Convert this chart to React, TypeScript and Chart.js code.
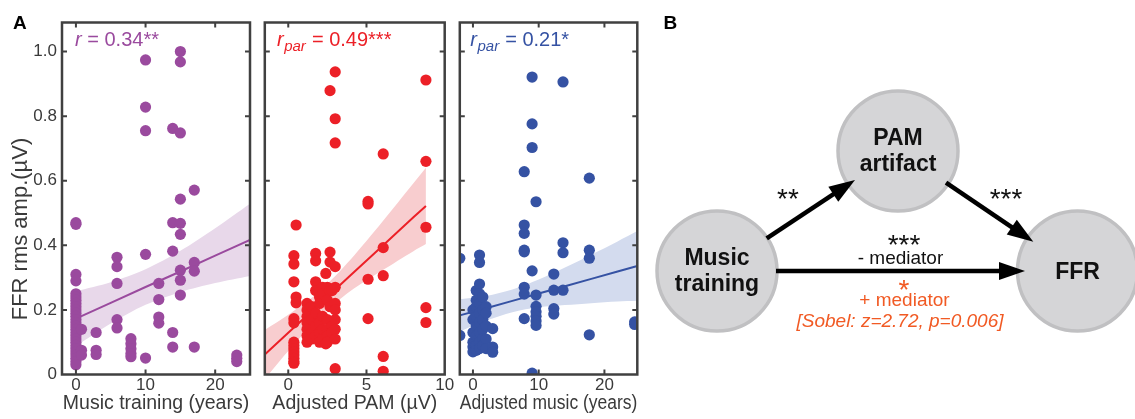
import React, { useEffect, useRef } from 'react';
import { Chart, registerables } from 'chart.js';

Chart.register(...registerables);

const FONT = '"Liberation Sans", Arial, Helvetica, sans-serif';
const INK = '#3a3a3a';
const FRAME = '#404040';
const H = 419;

const PURPLE = '#9a4a9e';
const PURPLE_BAND = '#e8d8ea';
const RED = '#ec2027';
const RED_BAND = '#f8cdcf';
const BLUE = '#3552a3';
const BLUE_BAND = '#d3dbee';
const ORANGE = '#f15a24';

// shared y axis: FFR rms amplitude (µV)
const ffrTicks = [0, 0.2, 0.4, 0.6, 0.8, 1.0];
const ffrTickLabels = ['0', '0.2', '0.4', '0.6', '0.8', '1.0'];

// ---- A, left: Music training (years)
const musicTicks = [0, 10, 20];
const musicYears = [0, 0.8, 2.9, 5.9, 7.9, 10, 11.9, 13.9, 15, 17, 23.1];
const musicFFR = [
  [0.47, 0.465, 0.31, 0.29, 0.25, 0.24, 0.23, 0.22, 0.21, 0.2, 0.19, 0.18, 0.17, 0.16, 0.15, 0.14, 0.13, 0.12, 0.11, 0.1, 0.09, 0.08, 0.07, 0.06, 0.05, 0.04, 0.03],
  [0.14, 0.075, 0.06],
  [0.13, 0.075, 0.062],
  [0.363, 0.334, 0.282, 0.17, 0.144],
  [0.111, 0.095, 0.08, 0.065, 0.055],
  [0.974, 0.828, 0.755, 0.372, 0.051],
  [0.282, 0.232, 0.178, 0.159],
  [0.762, 0.47, 0.382, 0.13, 0.085],
  [1.0, 0.968, 0.748, 0.543, 0.468, 0.434, 0.323, 0.292, 0.246],
  [0.571, 0.347, 0.32, 0.085],
  [0.06, 0.05, 0.04],
];
const musicFitX = [0, 5, 10, 15, 20, 25];
const musicFit = [0.173, 0.222, 0.271, 0.319, 0.368, 0.417];
const musicCiUpper = [0.258, 0.286, 0.326, 0.383, 0.453, 0.529];
const musicCiLower = [0.088, 0.158, 0.216, 0.255, 0.283, 0.305];

// ---- A, middle: Adjusted PAM (µV)
const pamTicks = [0, 5, 10];
const pamValues = [0.36, 0.5, 1.2, 1.5, 1.75, 2.0, 2.2, 2.4, 2.5, 2.67, 2.8, 3.0, 5.1, 6.07, 8.8];
const pamFFR = [
  [0.368, 0.342, 0.287, 0.173, 0.16, 0.1, 0.09, 0.08, 0.07, 0.06, 0.05, 0.04, 0.035],
  [0.463, 0.24, 0.222],
  [0.22, 0.2, 0.18, 0.16, 0.14, 0.12, 0.1],
  [0.21, 0.17, 0.13, 0.11],
  [0.375, 0.352, 0.287, 0.26, 0.19, 0.15, 0.12],
  [0.24, 0.22, 0.16, 0.13, 0.1],
  [0.27, 0.25, 0.18, 0.14, 0.11],
  [0.313, 0.095],
  [0.27, 0.23, 0.17, 0.14, 0.12, 0.1],
  [0.879, 0.379, 0.348, 0.26, 0.21],
  [0.26, 0.15, 0.13],
  [0.937, 0.792, 0.717, 0.334, 0.27, 0.22, 0.2, 0.17, 0.14, 0.11, 0.018],
  [0.536, 0.528, 0.295, 0.173],
  [0.683, 0.393, 0.306, 0.056, 0.01],
  [0.912, 0.66, 0.456, 0.207, 0.161],
];
const pamFitX = [-1.5, 0, 2, 4, 6, 8, 8.8];
const pamFit = [0.062, 0.129, 0.218, 0.308, 0.397, 0.487, 0.522];
const pamCiUpper = [0.138, 0.185, 0.258, 0.357, 0.472, 0.592, 0.64];
const pamCiLower = [-0.014, 0.073, 0.178, 0.259, 0.322, 0.382, 0.404];

// ---- A, right: Adjusted music (years)
const adjTicks = [0, 10, 20];
const adjMusic = [-2, 0, 0.5, 1.0, 1.5, 2.0, 3.0, 7.8, 9.0, 9.6, 12.3, 13.7, 17.7, 24.6];
const adjFFR = [
  [0.36, 0.121],
  [0.2, 0.17, 0.13, 0.1, 0.085, 0.07],
  [0.26, 0.23, 0.21, 0.18, 0.15, 0.12, 0.09, 0.075],
  [0.37, 0.347, 0.28, 0.25, 0.22, 0.19, 0.16, 0.13, 0.1, 0.08],
  [0.24, 0.2, 0.17, 0.14, 0.11, 0.09],
  [0.21, 0.19, 0.15, 0.11, 0.08],
  [0.142, 0.085, 0.069],
  [0.628, 0.463, 0.437, 0.385, 0.38, 0.27, 0.249, 0.173],
  [0.921, 0.776, 0.703, 0.321, 0.004],
  [0.535, 0.246, 0.211, 0.194, 0.18, 0.166, 0.152],
  [0.311, 0.261, 0.204, 0.187],
  [0.906, 0.408, 0.377, 0.261],
  [0.608, 0.385, 0.36, 0.123],
  [0.163, 0.155],
];
const adjFitX = [-2, 2, 6, 10, 14, 18, 22, 25];
const adjFit = [0.183, 0.205, 0.228, 0.251, 0.273, 0.296, 0.319, 0.336];
const adjCiUpper = [0.233, 0.243, 0.263, 0.294, 0.331, 0.371, 0.412, 0.444];
const adjCiLower = [0.133, 0.167, 0.193, 0.208, 0.215, 0.221, 0.226, 0.228];

// ---- B: mediation diagram
const nodeLabels = [['Music', 'training'], ['PAM', 'artifact'], ['FFR']];
const pathStars = ['**', '***', '***'];
const mediatorNotes = ['- mediator', '*', '+ mediator', '[Sobel: z=2.72, p=0.006]'];

// layout of diagram (page pixels)
const DIAGRAM = {
  nodes: [[717, 271], [898, 151], [1077.5, 271]],
  paths: [
    [[766.7, 238.3], [855, 180]],
    [[946, 182.7], [1033.3, 241.7]],
    [[776, 271], [1025, 271]],
  ],
  stars: [[788, 208], [1006, 208], [904, 254]],
  notes: [[900.5, 264], [904, 298.5], [904.5, 306], [900, 326.7]],
};

const panels = [
  {
    left: 0, width: 262, yAxisWidth: 62, padRight: 12,
    xMin: -2, xMax: 25, xTicks: musicTicks, xTitle: 'Music training (years)',
    xs: musicYears, ys: musicFFR, fitX: musicFitX, fit: musicFit, ciUp: musicCiUpper, ciLo: musicCiLower,
    color: PURPLE, band: PURPLE_BAND, statSub: '', statValue: ' = 0.34**', statDx: 13,
    showY: true,
  },
  {
    left: 256, width: 206, yAxisWidth: 8.8, padRight: 17.3,
    xMin: -1.5, xMax: 10, xTicks: pamTicks, xTitle: 'Adjusted PAM (µV)',
    xs: pamValues, ys: pamFFR, fitX: pamFitX, fit: pamFit, ciUp: pamCiUpper, ciLo: pamCiLower,
    color: RED, band: RED_BAND, statSub: 'par', statValue: ' = 0.49***', statDx: 12.2,
    showY: false,
  },
  {
    left: 452, width: 198, yAxisWidth: 7.8, padRight: 12.7,
    xMin: -2, xMax: 25, xTicks: adjTicks, xTitle: 'Adjusted music (years)',
    xs: adjMusic, ys: adjFFR, fitX: adjFitX, fit: adjFit, ciUp: adjCiUpper, ciLo: adjCiLower,
    color: BLUE, band: BLUE_BAND, statSub: 'par', statValue: ' = 0.21*', statDx: 10.5,
    showY: false,
  },
];

function framePlugin(s: any) {
  return {
    id: 'frame' + s.left,
    afterDraw(chart: any) {
      const { ctx, chartArea: a, scales } = chart;
      ctx.save();
      ctx.strokeStyle = FRAME;
      ctx.lineWidth = 2.5;
      ctx.strokeRect(a.left, a.top, a.right - a.left, a.bottom - a.top);
      ctx.lineWidth = 2;
      const TL = 5;
      ctx.beginPath();
      for (const t of scales.y.ticks) {
        const p = scales.y.getPixelForValue(t.value);
        if (p < a.top + 2 || p > a.bottom - 2) continue;
        ctx.moveTo(a.left, p); ctx.lineTo(a.left + TL, p);
        ctx.moveTo(a.right, p); ctx.lineTo(a.right - TL, p);
      }
      for (const t of scales.x.ticks) {
        const p = scales.x.getPixelForValue(t.value);
        if (p < a.left + 2 || p > a.right - 2) continue;
        ctx.moveTo(p, a.bottom); ctx.lineTo(p, a.bottom - TL);
        ctx.moveTo(p, a.top); ctx.lineTo(p, a.top + TL);
      }
      ctx.stroke();

      // correlation annotation
      let x = a.left + s.statDx;
      const base = a.top + 23.5;
      ctx.fillStyle = s.color;
      ctx.textAlign = 'left';
      ctx.textBaseline = 'alphabetic';
      ctx.font = `italic 20px ${FONT}`;
      ctx.fillText('r', x, base);
      x += ctx.measureText('r').width;
      if (s.statSub) {
        ctx.font = `italic 15px ${FONT}`;
        ctx.fillText(s.statSub, x + 0.5, base + 4.5);
        x += ctx.measureText(s.statSub).width + 1;
      }
      ctx.font = `20px ${FONT}`;
      ctx.fillText(s.statValue, x, base);

      if (s.showY) {
        ctx.save();
        ctx.translate(21, 229);
        ctx.rotate(-Math.PI / 2);
        ctx.fillStyle = INK;
        ctx.font = `22px ${FONT}`;
        ctx.textAlign = 'center';
        ctx.textBaseline = 'middle';
        ctx.fillText('FFR rms amp.(µV)', 0, 0);
        ctx.restore();
        ctx.fillStyle = '#000';
        ctx.font = `bold 19px ${FONT}`;
        ctx.textAlign = 'left';
        ctx.textBaseline = 'alphabetic';
        ctx.fillText('A', 13, 29.3);
      }
      ctx.restore();
    },
  };
}

function panelConfig(s: any): any {
  const points = s.xs.flatMap((x: number, i: number) => s.ys[i].map((y: number) => ({ x, y })));
  const xy = (ys: number[]) => s.fitX.map((x: number, i: number) => ({ x, y: ys[i] }));
  return {
    type: 'scatter',
    data: {
      datasets: [
        { type: 'scatter', data: points, backgroundColor: s.color, pointBackgroundColor: s.color, pointBorderWidth: 0, borderWidth: 0, pointRadius: 5.6, pointHoverRadius: 5.6 },
        { type: 'line', data: xy(s.fit), borderColor: s.color, borderWidth: 2, pointRadius: 0, fill: false, tension: 0 },
        { type: 'line', data: xy(s.ciUp), borderColor: 'rgba(0,0,0,0)', borderWidth: 0, pointRadius: 0, backgroundColor: s.band, fill: '+1', tension: 0.3 },
        { type: 'line', data: xy(s.ciLo), borderColor: 'rgba(0,0,0,0)', borderWidth: 0, pointRadius: 0, fill: false, tension: 0.3 },
      ],
    },
    options: {
      responsive: false,
      animation: false,
      events: [],
      layout: { autoPadding: false, padding: { left: 0, top: 22.5, right: s.padRight, bottom: 0 } },
      plugins: { legend: { display: false }, tooltip: { enabled: false } },
      scales: {
        x: {
          type: 'linear', min: s.xMin, max: s.xMax,
          grid: { display: false, drawTicks: false }, border: { display: false },
          afterBuildTicks: (sc: any) => { sc.ticks = s.xTicks.map((v: number) => ({ value: v })); },
          ticks: { color: INK, font: { family: FONT, size: 17 }, padding: 1, maxRotation: 0, autoSkip: false, callback: (v: any) => String(v) },
          title: { display: true, text: s.xTitle, color: INK, font: { family: FONT, size: 19.5 }, padding: { top: 0, bottom: 4 } },
          afterFit: (sc: any) => { sc.height = 44.5; },
        },
        y: {
          type: 'linear', min: 0, max: 1.09,
          grid: { display: false, drawTicks: false }, border: { display: false },
          afterBuildTicks: (sc: any) => { sc.ticks = ffrTicks.map((v) => ({ value: v })); },
          ticks: { display: s.showY, color: INK, font: { family: FONT, size: 17 }, padding: 5, callback: (_v: any, i: number) => ffrTickLabels[i] },
          afterFit: (sc: any) => { sc.width = s.yAxisWidth; },
        },
      },
    },
    plugins: [framePlugin(s)],
  };
}

const HEAD_LEN = 26;
const HEAD_HALF = 9;

const diagramPlugin = {
  id: 'diagram',
  afterDatasetsDraw(chart: any) {
    const { ctx, scales } = chart;
    const px = (v: number) => scales.x.getPixelForValue(v);
    const py = (v: number) => scales.y.getPixelForValue(v);
    ctx.save();
    // arrow heads
    ctx.fillStyle = '#000';
    DIAGRAM.paths.forEach(([f, t]) => {
      const tx = px(t[0]), ty = py(t[1]);
      const ang = Math.atan2(ty - py(f[1]), tx - px(f[0]));
      const c = Math.cos(ang), sn = Math.sin(ang);
      ctx.beginPath();
      ctx.moveTo(tx, ty);
      ctx.lineTo(tx - HEAD_LEN * c + HEAD_HALF * sn, ty - HEAD_LEN * sn - HEAD_HALF * c);
      ctx.lineTo(tx - HEAD_LEN * c - HEAD_HALF * sn, ty - HEAD_LEN * sn + HEAD_HALF * c);
      ctx.closePath();
      ctx.fill();
    });
    // node labels
    ctx.textAlign = 'center';
    ctx.textBaseline = 'alphabetic';
    ctx.fillStyle = '#111';
    ctx.font = `bold 23px ${FONT}`;
    nodeLabels.forEach((lines, i) => {
      const [cx, cy] = DIAGRAM.nodes[i];
      if (lines.length === 2) {
        ctx.fillText(lines[0], px(cx), py(cy - 6.5));
        ctx.fillText(lines[1], px(cx), py(cy + 20));
      } else {
        ctx.fillText(lines[0], px(cx), py(cy + 8.3));
      }
    });
    // significance stars
    ctx.font = `28px ${FONT}`;
    pathStars.forEach((st, i) => {
      const [sx, sy] = DIAGRAM.stars[i];
      ctx.fillText(st, px(sx), py(sy));
    });
    // mediator notes
    const noteStyles = [
      { color: '#111', font: `19px ${FONT}` },
      { color: ORANGE, font: `28px ${FONT}` },
      { color: ORANGE, font: `19px ${FONT}` },
      { color: ORANGE, font: `italic 19px ${FONT}` },
    ];
    mediatorNotes.forEach((txt, i) => {
      const [nx, ny] = DIAGRAM.notes[i];
      ctx.fillStyle = noteStyles[i].color;
      ctx.font = noteStyles[i].font;
      ctx.fillText(txt, px(nx), py(ny));
    });
    // panel letter
    ctx.fillStyle = '#000';
    ctx.textAlign = 'left';
    ctx.font = `bold 19px ${FONT}`;
    ctx.fillText('B', px(663.5), py(29.3));
    ctx.restore();
  },
};

function diagramConfig(): any {
  const base = (f: number[], t: number[]) => {
    const dx = t[0] - f[0], dy = t[1] - f[1];
    const len = Math.hypot(dx, dy);
    const k = (len - HEAD_LEN + 3) / len;
    return { x: f[0] + dx * k, y: f[1] + dy * k };
  };
  const arrows = DIAGRAM.paths.map(([f, t]) => ({
    type: 'line',
    data: [{ x: f[0], y: f[1] }, base(f, t)],
    borderColor: '#000',
    borderWidth: 4.5,
    pointRadius: 0,
    fill: false,
    clip: false,
  }));
  return {
    type: 'scatter',
    data: {
      datasets: [
        ...arrows,
        {
          type: 'scatter',
          data: DIAGRAM.nodes.map(([x, y]) => ({ x, y })),
          pointRadius: 60,
          pointHoverRadius: 60,
          backgroundColor: '#d5d5d7',
          pointBackgroundColor: '#d5d5d7',
          pointBorderColor: '#c0c0c2',
          pointBorderWidth: 3.5,
          clip: false,
        },
      ],
    },
    options: {
      responsive: false,
      animation: false,
      events: [],
      layout: { autoPadding: false, padding: 0 },
      plugins: { legend: { display: false }, tooltip: { enabled: false } },
      scales: {
        x: { type: 'linear', min: 640, max: 1135, display: false },
        y: { type: 'linear', min: 0, max: 419, reverse: true, display: false },
      },
    },
    plugins: [diagramPlugin],
  };
}

function ChartCanvas({ left, width, make }: { left: number; width: number; make: () => any }) {
  const ref = useRef<HTMLCanvasElement>(null);
  useEffect(() => {
    const chart = new Chart(ref.current as HTMLCanvasElement, make());
    return () => chart.destroy();
  }, []);
  return (
    <canvas
      ref={ref}
      width={width}
      height={H}
      style={{ position: 'absolute', left, top: 0, width, height: H }}
    />
  );
}

export default function App() {
  return (
    <div style={{ position: 'absolute', left: 0, top: 0, width: 1135, height: H, background: '#fff', overflow: 'hidden' }}>
      {panels.map((p) => (
        <ChartCanvas key={p.left} left={p.left} width={p.width} make={() => panelConfig(p)} />
      ))}
      <ChartCanvas left={640} width={495} make={diagramConfig} />
    </div>
  );
}
